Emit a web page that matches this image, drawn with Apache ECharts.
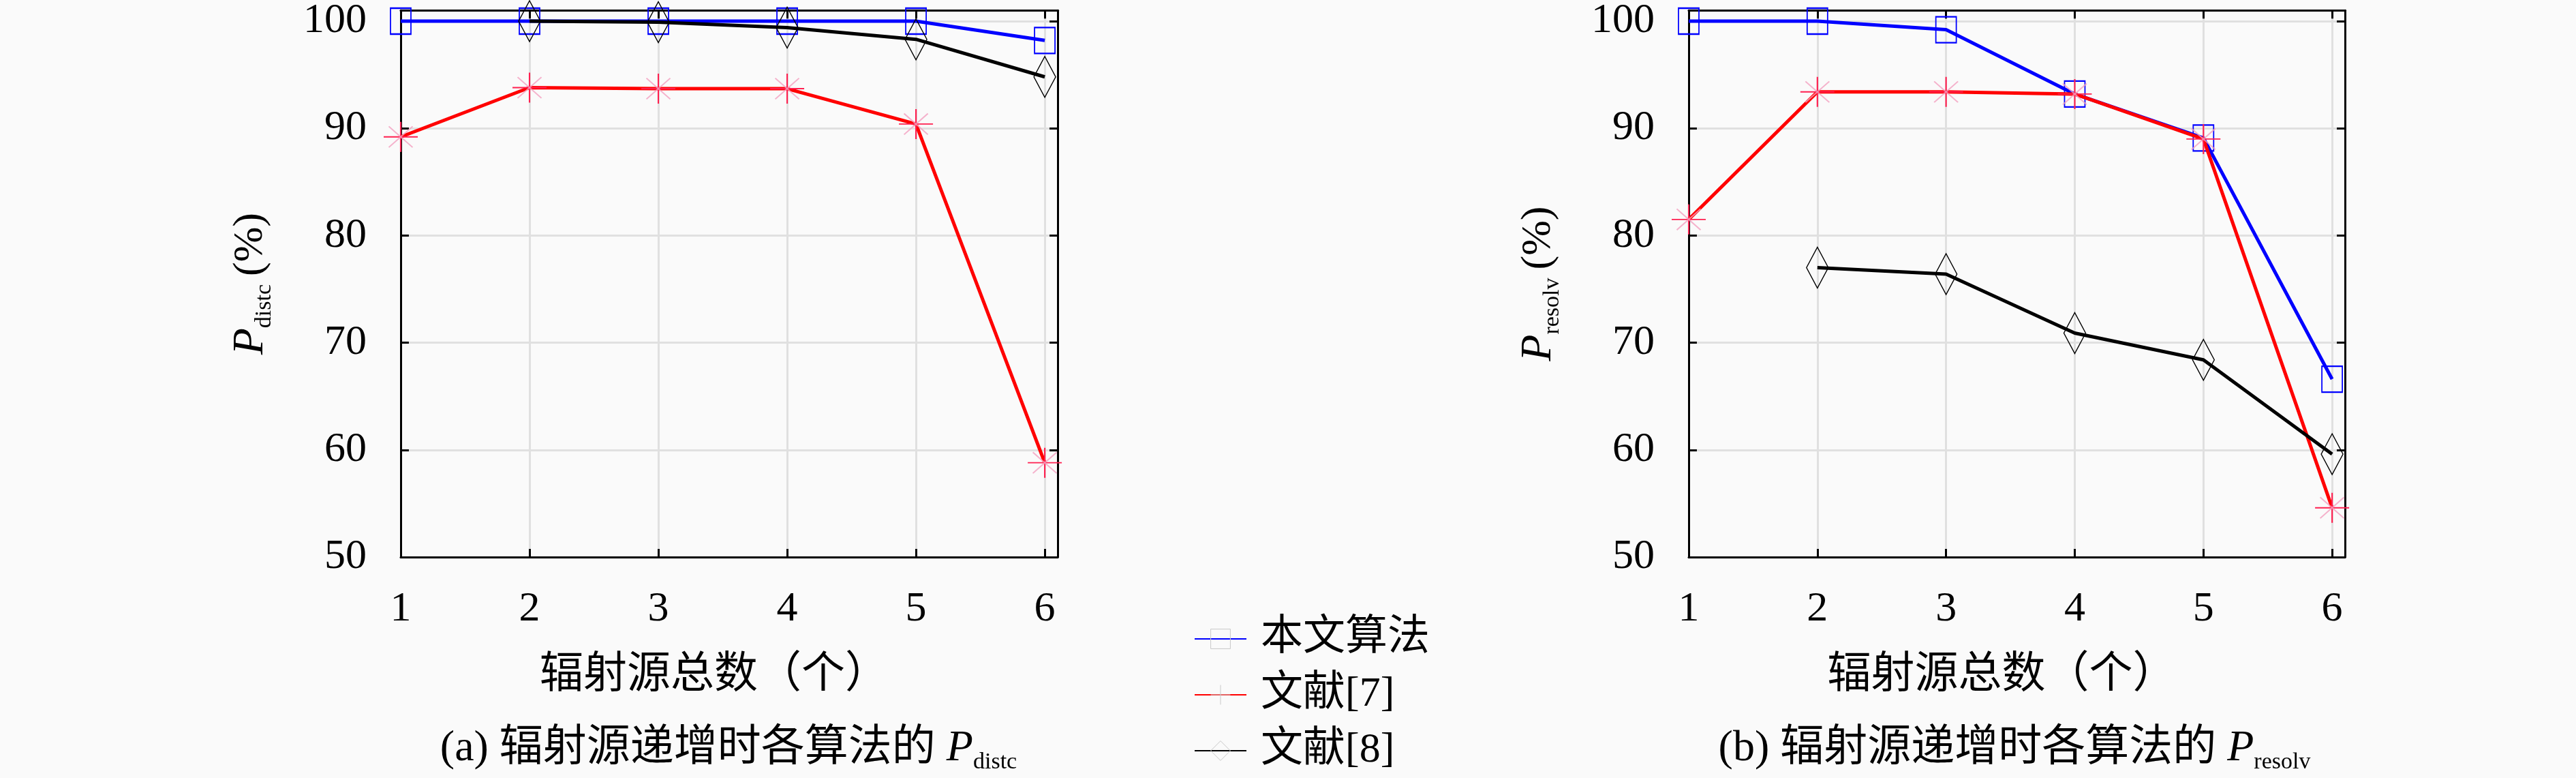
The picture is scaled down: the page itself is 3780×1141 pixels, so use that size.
<!DOCTYPE html>
<html>
<head>
<meta charset="utf-8">
<script src="https://cdn.jsdelivr.net/npm/echarts@6/dist/echarts.min.js"></script>
<style>
  html, body { margin: 0; padding: 0; background: #fafafa; }
  #chart { width: 3780px; height: 1141px; }
</style>
</head>
<body>
<div id="chart"></div>
<script>
// 横轴：辐射源总数
var xTicks = [1, 2, 3, 4, 5, 6];
var yTicks = [50, 60, 70, 80, 90, 100];
var seriesNames = ['本文算法', '文献[7]', '文献[8]'];

// (a) P_distc
var distcOurs = [100, 100, 100, 100, 100, 98.2];
var distcRef7 = [89.2, 93.8, 93.7, 93.7, 90.4, 58.8];
var distcRef8 = [null, 100, 99.9, 99.4, 98.3, 94.8];

// (b) P_resolv
var resolvOurs = [100, 100, 99.2, 93.2, 89.1, 66.6];
var resolvRef7 = [81.5, 93.4, 93.4, 93.2, 89.0, 54.6];
var resolvRef8 = [null, 77.0, 76.4, 70.9, 68.4, 59.6];

var serifFont = "'Liberation Serif', 'Noto Sans CJK SC', serif";

function pairs(vals) {
    var out = [];
    for (var i = 0; i < xTicks.length; i++) {
        if (vals[i] != null) out.push([xTicks[i], vals[i]]);
    }
    return out;
}

var symbolRect = 'path://M0,0L1,0L1,1L0,1Z';
var symbolPlus = 'path://M0,10L20,10M10,0L10,20';
var symbolCross = 'path://M3,3L17,17M17,3L3,17M0,0M20,20';
var symbolDiamond = 'path://M1,0L2,1L1,2L0,1Z';

var nameRich = {
    p: { fontFamily: serifFont, fontStyle: 'italic', fontSize: 64, lineHeight: 70, color: '#000' },
    s: { fontFamily: serifFont, fontSize: 34, lineHeight: 34, padding: [40, 0, 0, 0], color: '#000' },
    n: { fontFamily: serifFont, fontSize: 62, lineHeight: 70, padding: [0, 0, 0, 12], color: '#000' }
};

function xAxes(gi) {
    return [{
        gridIndex: gi,
        type: 'value',
        min: 1,
        max: 6.1,
        interval: 1,
        name: '辐射源总数（个）',
        nameLocation: 'middle',
        nameGap: 142,
        nameTextStyle: { fontFamily: serifFont, fontSize: 64, lineHeight: 64, color: '#000', padding: [0, 44, 0, 0] },
        axisLine: { show: true, lineStyle: { color: '#000', width: 3 } },
        axisTick: { show: true, inside: true, length: 12, lineStyle: { color: '#000', width: 3 } },
        axisLabel: {
            margin: 46,
            fontFamily: serifFont,
            fontSize: 62,
            color: '#000',
            formatter: function (v) { return xTicks.indexOf(v) >= 0 ? String(v) : ''; }
        },
        splitLine: { show: true, lineStyle: { color: '#e0e0e0', width: 3 } }
    }, {
        gridIndex: gi,
        type: 'value',
        position: 'top',
        min: 1,
        max: 6.1,
        interval: 1,
        axisLine: { show: true, lineStyle: { color: '#000', width: 3 } },
        axisTick: { show: true, inside: true, length: 12, lineStyle: { color: '#000', width: 3 } },
        axisLabel: { show: false },
        splitLine: { show: false }
    }];
}

function yAxes(gi, sub) {
    return [{
        gridIndex: gi,
        type: 'value',
        min: 50,
        max: 101,
        interval: 10,
        name: '{p|P}{s|' + sub + '}{n|(%)}',
        nameLocation: 'middle',
        nameGap: 185,
        nameTextStyle: { rich: nameRich },
        axisLine: { show: true, lineStyle: { color: '#000', width: 3 } },
        axisTick: { show: true, inside: true, length: 12, lineStyle: { color: '#000', width: 3 } },
        axisLabel: {
            margin: 50,
            fontFamily: serifFont,
            fontSize: 62,
            color: '#000',
            formatter: function (v) { return yTicks.indexOf(v) >= 0 ? String(v) : ''; }
        },
        splitLine: { show: true, lineStyle: { color: '#e0e0e0', width: 3 } }
    }, {
        gridIndex: gi,
        type: 'value',
        position: 'right',
        min: 50,
        max: 101,
        interval: 10,
        axisLine: { show: true, lineStyle: { color: '#000', width: 3 } },
        axisTick: { show: true, inside: true, length: 12, lineStyle: { color: '#000', width: 3 } },
        axisLabel: { show: false },
        splitLine: { show: false }
    }];
}

function makeSeries(gi, ours, ref7, ref8) {
    var xi = gi * 2, yi = gi * 2;
    return [{
        name: seriesNames[0], type: 'line', xAxisIndex: xi, yAxisIndex: yi,
        data: pairs(ours),
        symbol: symbolRect, symbolSize: [30, 38],
        lineStyle: { color: '#0000ff', width: 5 },
        itemStyle: { color: 'none', borderColor: '#0000ff', borderWidth: 2 },
        z: 2
    }, {
        name: seriesNames[1], type: 'line', xAxisIndex: xi, yAxisIndex: yi,
        data: pairs(ref7),
        symbol: symbolPlus, symbolSize: [50, 44],
        lineStyle: { color: '#ff0000', width: 5 },
        itemStyle: { color: 'none', borderColor: '#ff2050', borderWidth: 2 },
        z: 3
    }, {
        // 星号标记的斜线（浅粉色）
        type: 'scatter', xAxisIndex: xi, yAxisIndex: yi,
        data: pairs(ref7),
        symbol: symbolCross, symbolSize: [50, 44],
        itemStyle: { color: 'none', borderColor: '#f4a0c0', borderWidth: 2 },
        silent: true,
        z: 3
    }, {
        name: seriesNames[2], type: 'line', xAxisIndex: xi, yAxisIndex: yi,
        data: pairs(ref8),
        symbol: symbolDiamond, symbolSize: [32, 60],
        lineStyle: { color: '#000000', width: 5 },
        itemStyle: { color: 'none', borderColor: '#000000', borderWidth: 1.5 },
        z: 4
    }];
}

var myChart = echarts.init(document.getElementById('chart'));

var capRich = {
    p: { fontFamily: serifFont, fontStyle: 'italic', fontSize: 64, lineHeight: 70, color: '#000' },
    s: { fontFamily: serifFont, fontSize: 34, lineHeight: 34, padding: [40, 0, 0, 0], color: '#000' }
};

var option = {
    backgroundColor: '#fafafa',
    animation: false,
    title: [{
        text: '(a) 辐射源递增时各算法的 {p|P}{s|distc}',
        left: 1064, top: 1058, textAlign: 'center',
        textStyle: { fontFamily: serifFont, fontSize: 64, fontWeight: 'normal', color: '#000', rich: capRich }
    }, {
        text: '(b) 辐射源递增时各算法的 {p|P}{s|resolv}',
        left: 2951, top: 1058, textAlign: 'center',
        textStyle: { fontFamily: serifFont, fontSize: 64, fontWeight: 'normal', color: '#000', rich: capRich }
    }],
    legend: {
        orient: 'vertical',
        left: 1752,
        top: 906,
        padding: 0,
        itemWidth: 76,
        itemHeight: 36,
        itemGap: 20,
        data: seriesNames,
        itemStyle: { borderColor: '#c8c8c8', borderWidth: 1 },
        textStyle: { fontFamily: serifFont, fontSize: 62, lineHeight: 62, color: '#000', padding: [0, 0, 0, 16] }
    },
    grid: [
        { left: 588, right: 3780 - 1552, top: 10, bottom: 1141 - 817, containLabel: false },
        { left: 2478, right: 3780 - 3441, top: 10, bottom: 1141 - 817, containLabel: false }
    ],
    xAxis: xAxes(0).concat(xAxes(1)),
    yAxis: yAxes(0, 'distc').concat(yAxes(1, 'resolv')),
    series: makeSeries(0, distcOurs, distcRef7, distcRef8)
        .concat(makeSeries(1, resolvOurs, resolvRef7, resolvRef8))
};

myChart.setOption(option);
</script>
</body>
</html>
